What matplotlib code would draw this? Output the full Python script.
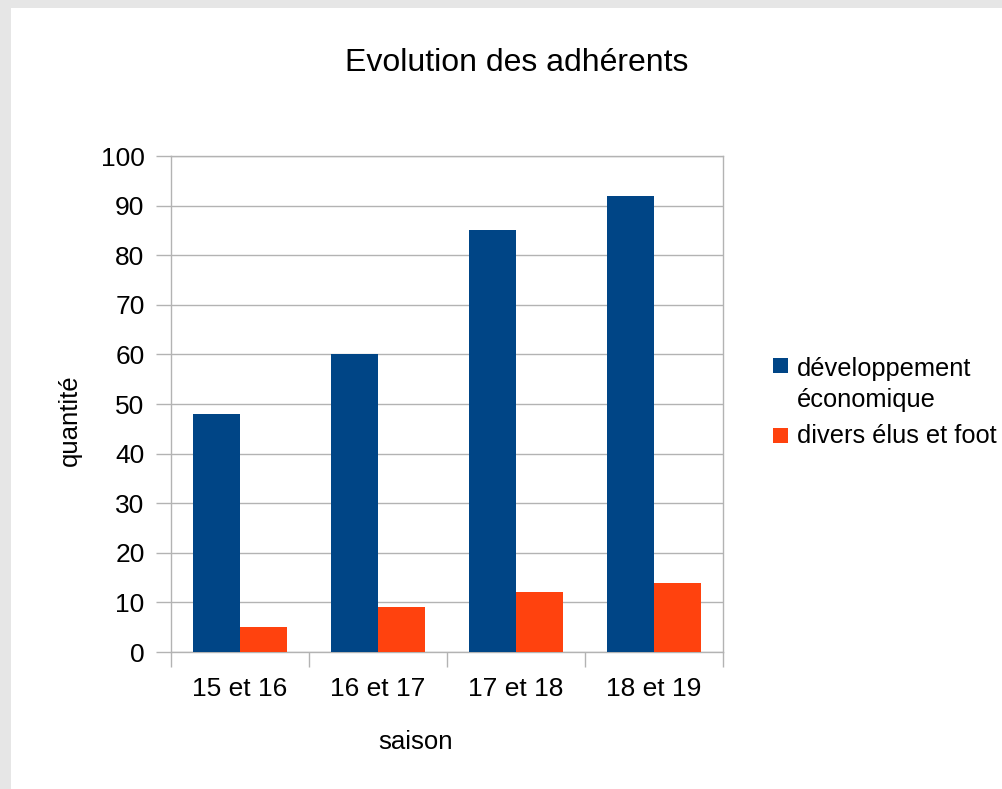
import matplotlib
matplotlib.use("Agg")
import matplotlib.pyplot as plt
import numpy as np
from matplotlib.patches import Rectangle

categories = ["15 et 16", "16 et 17", "17 et 18", "18 et 19"]
dev_eco = [48, 60, 85, 92]
divers = [5, 9, 12, 14]
series_names = ["développement\néconomique", "divers élus et foot"]
colors = ["#004586", "#ff420e"]

plt.rcParams['font.family'] = ['Liberation Sans', 'DejaVu Sans']

W, H = 1002, 789
fig = plt.figure(figsize=(W / 100, H / 100), dpi=100)
fig.patch.set_facecolor("#e6e6e6")
fig.patches.append(Rectangle((11 / W, 0), 1, 1 - 8 / H, transform=fig.transFigure,
                             facecolor="white", edgecolor="none", zorder=-10))

def fx(px):
    return px / W

def fy(py):
    return 1 - py / H

ax = fig.add_axes([fx(171), fy(652), (723 - 171) / W, (652 - 156) / H])
ax.set_facecolor("white")

x = np.arange(len(categories))
bw = 0.337
ax.bar(x - bw / 2, dev_eco, width=bw, color=colors[0], zorder=3)
ax.bar(x + bw / 2, divers, width=bw, color=colors[1], zorder=3)

ax.set_xlim(-0.5, len(categories) - 0.5)
ax.set_ylim(0, 100)
ax.set_yticks(range(0, 101, 10))
ax.set_xticks(x)
ax.set_xticklabels(categories)
ax.set_xticks(np.arange(-0.5, len(categories), 1), minor=True)

grid_c = "#b3b3b3"
ax.yaxis.grid(True, color=grid_c, linewidth=1, zorder=0)
for s in ax.spines.values():
    s.set_color(grid_c)
    s.set_linewidth(1)

ax.tick_params(axis='y', length=11, width=1, color=grid_c, labelsize=19, pad=8)
ax.tick_params(axis='x', which='major', length=0, labelsize=19, pad=18)
ax.tick_params(axis='x', which='minor', length=11, width=1, color=grid_c)

fig.text(fx(517), fy(63), "Evolution des adhérents", fontsize=23, ha='center', va='center')
fig.text(fx(70), fy(420), "quantité", rotation=90, fontsize=18.5, ha='center', va='center')
fig.text(fx(416), fy(742), "saison", fontsize=18.5, ha='center', va='center')

# legend drawn manually
sq = 15
leg_items = [(series_names[0], colors[0], 358, [376, 407]),
             (series_names[1], colors[1], 428, [443])]
for name, col, sq_top, baselines in leg_items:
    fig.patches.append(Rectangle((fx(773), fy(sq_top + sq)), sq / W, sq / H,
                                 transform=fig.transFigure, facecolor=col,
                                 edgecolor="none"))
    for line, bl in zip(name.split("\n"), baselines):
        fig.text(fx(797), fy(bl), line, fontsize=18.3, ha='left', va='baseline')

fig.savefig("out.png", dpi=100)
